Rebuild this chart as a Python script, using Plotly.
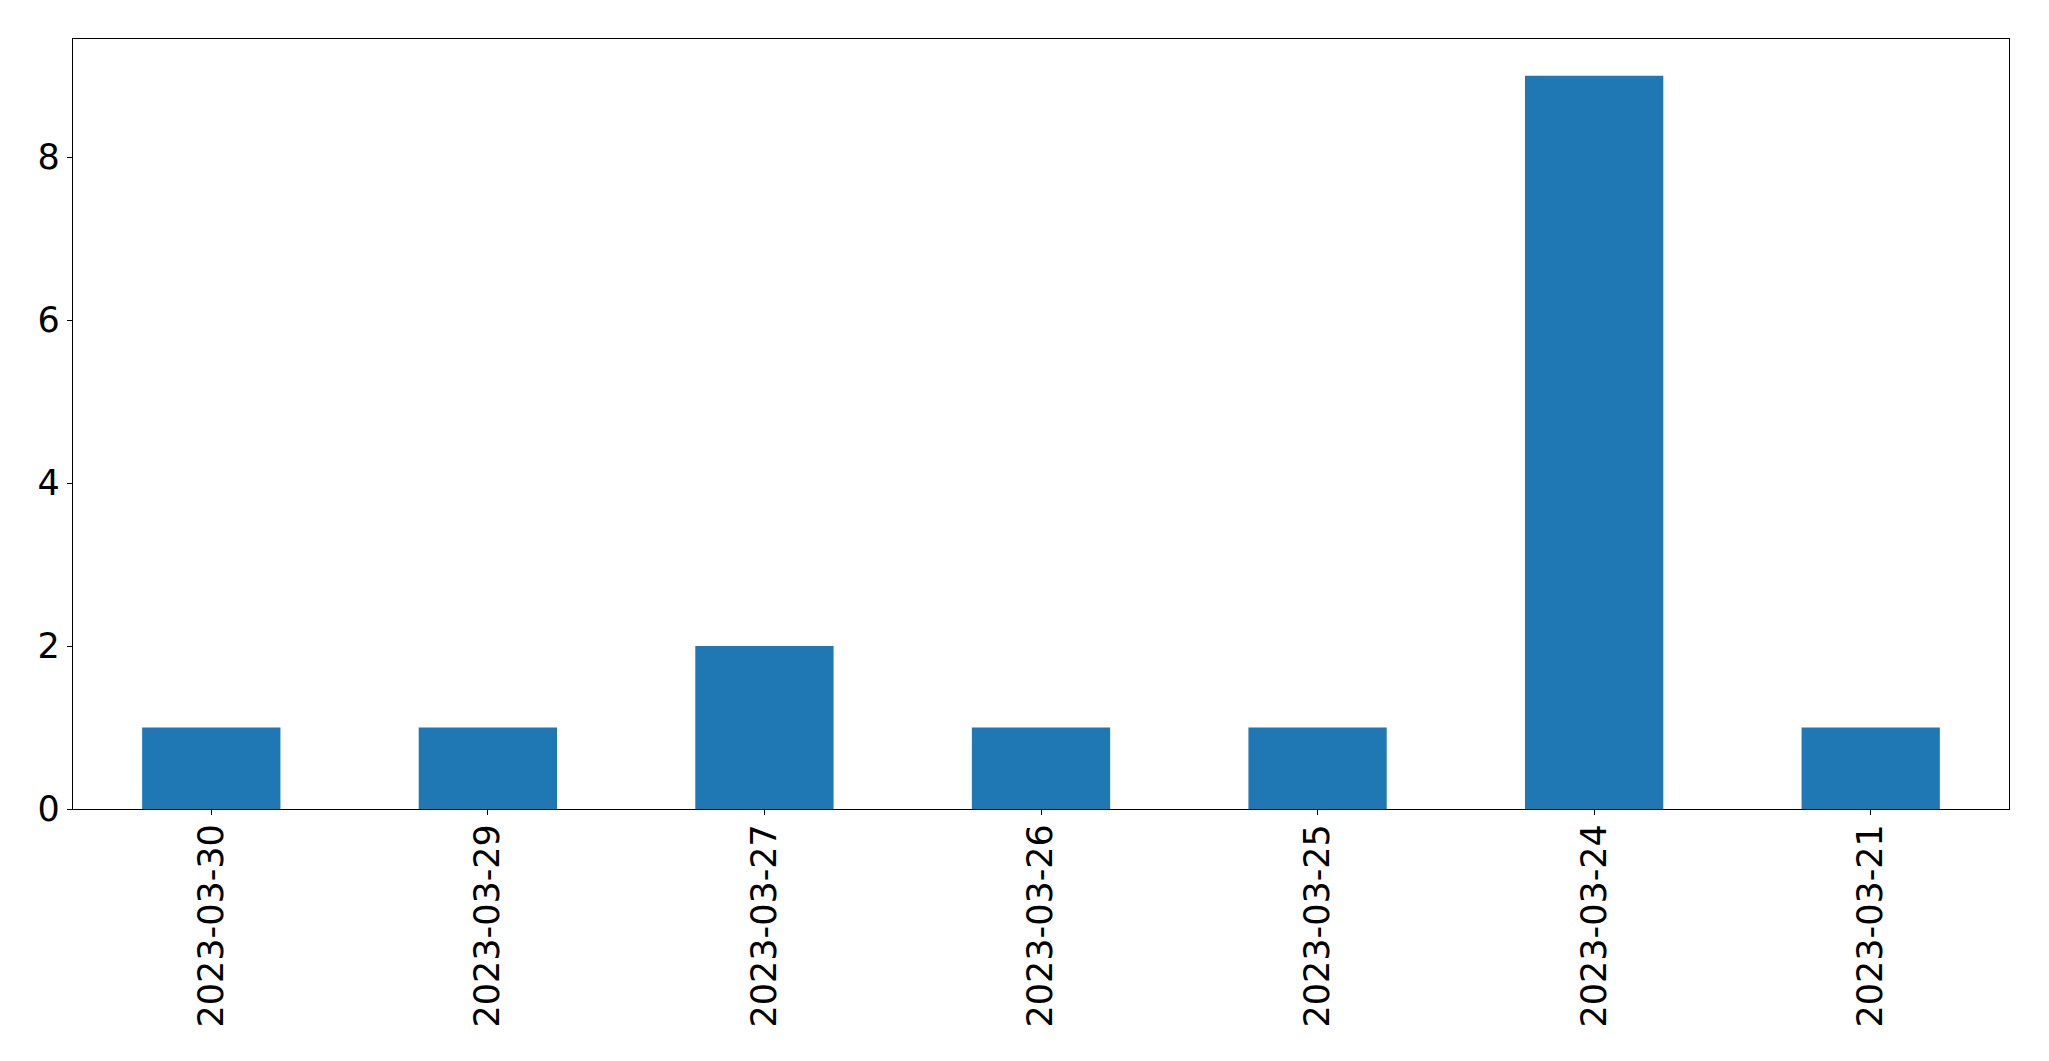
import plotly.graph_objects as go

dates = ["2023-03-30", "2023-03-29", "2023-03-27", "2023-03-26", "2023-03-25", "2023-03-24", "2023-03-21"]
counts = [1, 1, 2, 1, 1, 9, 1]
y_ticks = [0, 2, 4, 6, 8]

# page body has an 8px default margin; compensate
W, H = 2033, 1045
L, R, T, B = 64.5, 31.7, 31.3, 244

fig = go.Figure(go.Bar(
    x=list(range(len(dates))), y=counts, width=0.5,
    marker=dict(color="#1f77b4", line=dict(width=0)),
))

axis_common = dict(showline=True, linecolor="black", linewidth=1.3, mirror=True,
                   ticks="outside", ticklen=5, tickwidth=1.3, tickcolor="black",
                   showgrid=False, zeroline=False,
                   tickfont=dict(family="DejaVu Sans", size=35, color="black"))

fig.update_layout(
    width=W, height=H,
    margin=dict(l=L, r=R, t=T, b=B, autoexpand=False),
    paper_bgcolor="white", plot_bgcolor="white",
    showlegend=False,
    xaxis=dict(range=[-0.5, len(dates) - 0.5], tickmode="array",
               tickvals=list(range(len(dates))), ticktext=dates, tickangle=-90,
               ticklabelstandoff=-5, **axis_common),
    yaxis=dict(range=[0, max(counts) * 1.05], tickmode="array", tickvals=y_ticks,
               ticktext=[str(v) for v in y_ticks], **axis_common),
)

fig.write_html("out.html")
